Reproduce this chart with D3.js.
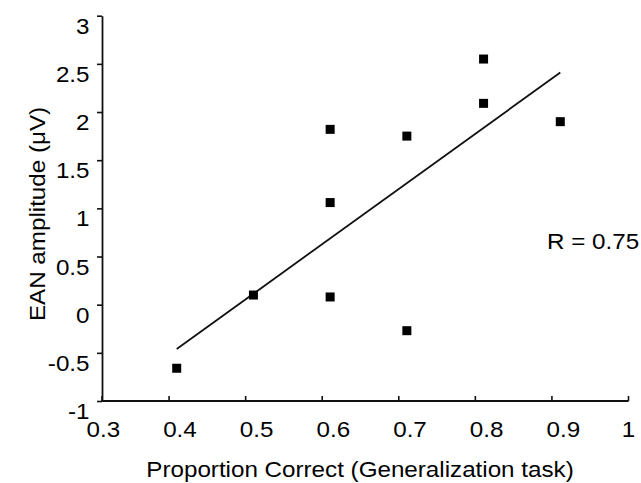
<!DOCTYPE html>
<html>
<head>
<meta charset="utf-8">
<script src="https://cdn.jsdelivr.net/npm/d3@7"></script>
<style>
  body { margin: 0; background: #fff; }
  text { font-family: "Liberation Sans", Arial, sans-serif; fill: #000; }
</style>
</head>
<body>
<div id="chart"></div>
<script>
// values
const propCorrect = [0.4, 0.5, 0.6, 0.6, 0.6, 0.7, 0.7, 0.8, 0.8, 0.9];
const eanAmp = [-0.66, 0.10, 1.82, 1.06, 0.08, 1.75, -0.27, 2.55, 2.09, 1.90];
const fitX = [0.4, 0.9];
const fitY = [-0.46, 2.41];
const xTicks = [0.3, 0.4, 0.5, 0.6, 0.7, 0.8, 0.9, 1];
const yTicks = [-1, -0.5, 0, 0.5, 1, 1.5, 2, 2.5, 3];
const rLabel = 'R = 0.75';

const width = 641, height = 483;
const fs = 22, sx = 1.1; // text is drawn a bit wider than plain Arial
const axisLeftX = 102, axisRightX = 628.5;

const svg = d3.select('#chart').append('svg')
  .attr('width', width)
  .attr('height', height);

// data scale
const x = d3.scaleLinear().domain([0.3, 1]).range([100, 637]);
const y = d3.scaleLinear().domain([-1, 3]).range([401, 15.7]);
// tick marks and labels sit a little off the data positions in the original
const xTick = d3.scaleLinear().domain([0.3, 1]).range([92.5, 628.5]);
const xLab = d3.scaleLinear().domain([0.3, 1]).range([103.3, 640]);

//Y axis
const yAxis = d3.axisLeft(y)
  .tickValues(yTicks)
  .tickSizeInner(5)
  .tickSizeOuter(0)
  .tickFormat(d => String(d));

const gy = svg.append('g')
  .attr('transform', `translate(${axisLeftX},0)`)
  .call(yAxis);
gy.select('.domain').attr('stroke', '#111').attr('stroke-width', 1.8);
gy.selectAll('.tick line').attr('stroke', '#111').attr('stroke-width', 1.6);
gy.selectAll('.tick text')
  .attr('font-size', fs)
  .attr('x', -12.5 / sx)
  .attr('dy', null)
  .attr('y', 17.5)
  .attr('transform', `scale(${sx},1)`)
  .style('fill', '#000');

//X axis drawn by hand so the line starts at the y axis
const gx = svg.append('g').attr('transform', `translate(0,${y(-1)})`);
gx.append('line')
  .attr('x1', axisLeftX).attr('x2', axisRightX)
  .attr('stroke', '#111').attr('stroke-width', 1.8);

const xt = gx.selectAll('.xtick')
  .data(xTicks)
  .join('g')
  .attr('class', 'xtick');

xt.append('line')
  .attr('x1', d => Math.max(xTick(d), axisLeftX))
  .attr('x2', d => Math.max(xTick(d), axisLeftX))
  .attr('y1', 0).attr('y2', -5)
  .attr('stroke', '#111').attr('stroke-width', 1.6);

xt.append('g')
  .attr('transform', d => `translate(${Math.min(xLab(d), axisRightX)},35.7)`)
  .append('text')
  .attr('text-anchor', 'middle')
  .attr('font-size', fs)
  .attr('transform', `scale(${sx},1)`)
  .text(d => String(d));

//Axis titles
svg.append('g')
  .attr('transform', `translate(360,476.5)`)
  .append('text')
  .attr('text-anchor', 'middle')
  .attr('font-size', fs)
  .attr('transform', `scale(${sx},1)`)
  .text('Proportion Correct (Generalization task)');

svg.append('g')
  .attr('transform', `translate(45,214) rotate(-90)`)
  .append('text')
  .attr('text-anchor', 'middle')
  .attr('font-size', fs)
  .attr('transform', `scale(${sx},1)`)
  .text('EAN amplitude (μV)');

svg.append('g')
  .attr('transform', `translate(547,248.5)`)
  .append('text')
  .attr('font-size', fs)
  .attr('transform', `scale(${sx},1)`)
  .text(rLabel);

//Regression line
svg.append('path')
  .datum(d3.zip(fitX, fitY))
  .attr('fill', 'none')
  .attr('stroke', '#111')
  .attr('stroke-width', 1.8)
  .attr('d', d3.line().x(d => x(d[0])).y(d => y(d[1])));

//Points
const sq = 9;
svg.selectAll('.pt')
  .data(d3.zip(propCorrect, eanAmp))
  .join('rect')
  .attr('class', 'pt')
  .attr('x', d => x(d[0]) - sq / 2)
  .attr('y', d => y(d[1]) - sq / 2)
  .attr('width', sq)
  .attr('height', sq)
  .attr('fill', '#000');
</script>
</body>
</html>
